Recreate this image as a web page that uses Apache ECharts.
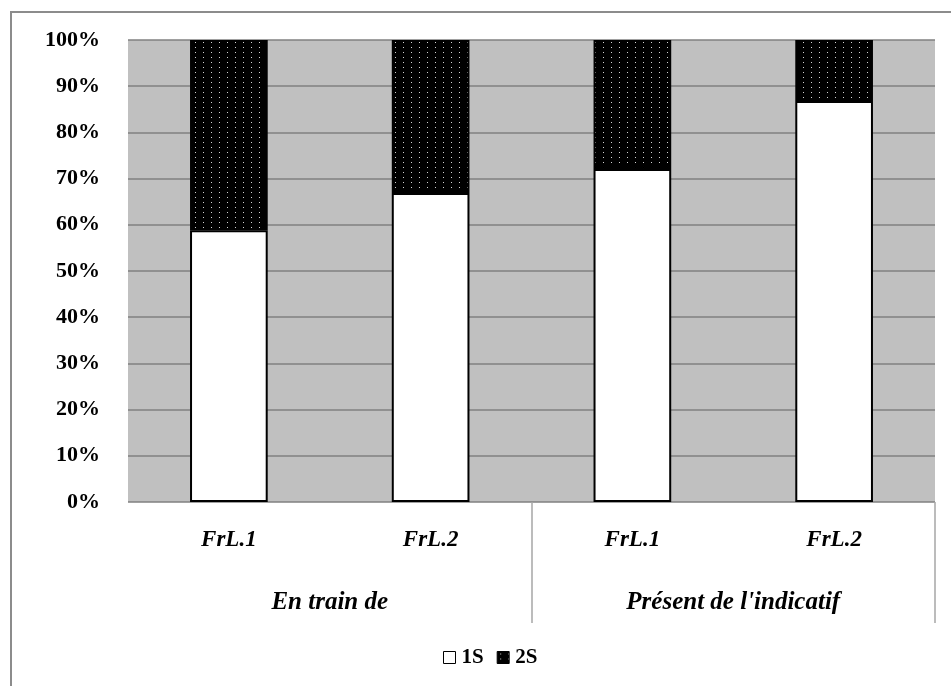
<!DOCTYPE html>
<html>
<head>
<meta charset="utf-8">
<script src="https://cdn.jsdelivr.net/npm/echarts@6/dist/echarts.min.js"></script>
<style>
html,body{margin:0;padding:0;background:#fff;}
#frame{position:absolute;left:10px;top:11px;width:1000px;height:1000px;border:2px solid #8c8c8c;}
#chart{position:absolute;left:0;top:0;width:951px;height:686px;}
</style>
</head>
<body>
<div id="frame"></div>
<div id="chart"></div>
<script>
const categories = ['FrL.1', 'FrL.2', 'FrL.1', 'FrL.2'];
const groups = ['En train de', "Présent de l'indicatif"];
const s1Name = '1S';
const s2Name = '2S';
const s1 = [58.8, 66.9, 72.1, 86.8];
const s2 = [41.2, 33.1, 27.9, 13.2];

const SERIF = "'Liberation Serif', 'Times New Roman', serif";

function dotPattern() {
  const c = document.createElement('canvas');
  c.width = 8; c.height = 5;
  const g = c.getContext('2d');
  g.fillStyle = '#000';
  g.fillRect(0, 0, 8, 5);
  g.fillStyle = '#d4d4d4';
  g.fillRect(3, 2, 1, 1);
  return c;
}
const pat = { image: dotPattern(), repeat: 'repeat' };

const chart = echarts.init(document.getElementById('chart'), null, { renderer: 'canvas' });
chart.setOption({
  animation: false,
  backgroundColor: 'transparent',
  grid: { left: 128, right: 16, top: 40, bottom: 184, show: true, backgroundColor: '#c0c0c0', borderWidth: 0 },
  legend: {
    top: 647, left: 443, padding: 0,
    itemWidth: 12, itemHeight: 12, itemGap: 13,
    textStyle: { fontFamily: SERIF, fontWeight: 'bold', fontSize: 21, color: '#000', padding: [0, 0, 0, 1] },
    data: [
      { name: s1Name, icon: 'rect', itemStyle: { color: '#fff', borderColor: '#000', borderWidth: 1 } },
      { name: s2Name, icon: 'rect', itemStyle: { color: pat, borderColor: '#000', borderWidth: 1 } }
    ]
  },
  xAxis: [
    {
      type: 'category', data: categories, position: 'bottom',
      axisLine: { show: false }, axisTick: { show: false },
      axisLabel: { margin: 27, fontFamily: SERIF, fontStyle: 'italic', fontWeight: 'bold', fontSize: 23, color: '#000' }
    },
    {
      type: 'category', data: groups, position: 'bottom', offset: 62,
      axisLine: { show: false }, axisTick: { show: false },
      axisLabel: { margin: 26, fontFamily: SERIF, fontStyle: 'italic', fontWeight: 'bold', fontSize: 25, color: '#000' }
    },
    {
      type: 'value', min: 0, max: 4, position: 'bottom',
      axisLine: { show: false }, splitLine: { show: false },
      axisLabel: { show: false },
      axisTick: { show: true, customValues: [2, 4], length: 121, lineStyle: { color: '#a6a6a6', width: 1.5 } }
    }
  ],
  yAxis: {
    type: 'value', min: 0, max: 100, interval: 10,
    axisLine: { show: false }, axisTick: { show: false },
    splitLine: { lineStyle: { color: '#808080', width: 1.5 } },
    axisLabel: { formatter: '{value}%', margin: 28, fontFamily: SERIF, fontWeight: 'bold', fontSize: 22, color: '#000' }
  },
  series: [
    {
      name: s1Name, type: 'bar', stack: 'a', data: s1, barWidth: '38.5%', xAxisIndex: 0,
      itemStyle: { color: '#fff', borderColor: '#000', borderWidth: 2 }
    },
    {
      name: s2Name, type: 'bar', stack: 'a', data: s2, barWidth: '38.5%', xAxisIndex: 0,
      itemStyle: { color: pat, borderColor: '#000', borderWidth: 2 }
    }
  ]
});
</script>
</body>
</html>
